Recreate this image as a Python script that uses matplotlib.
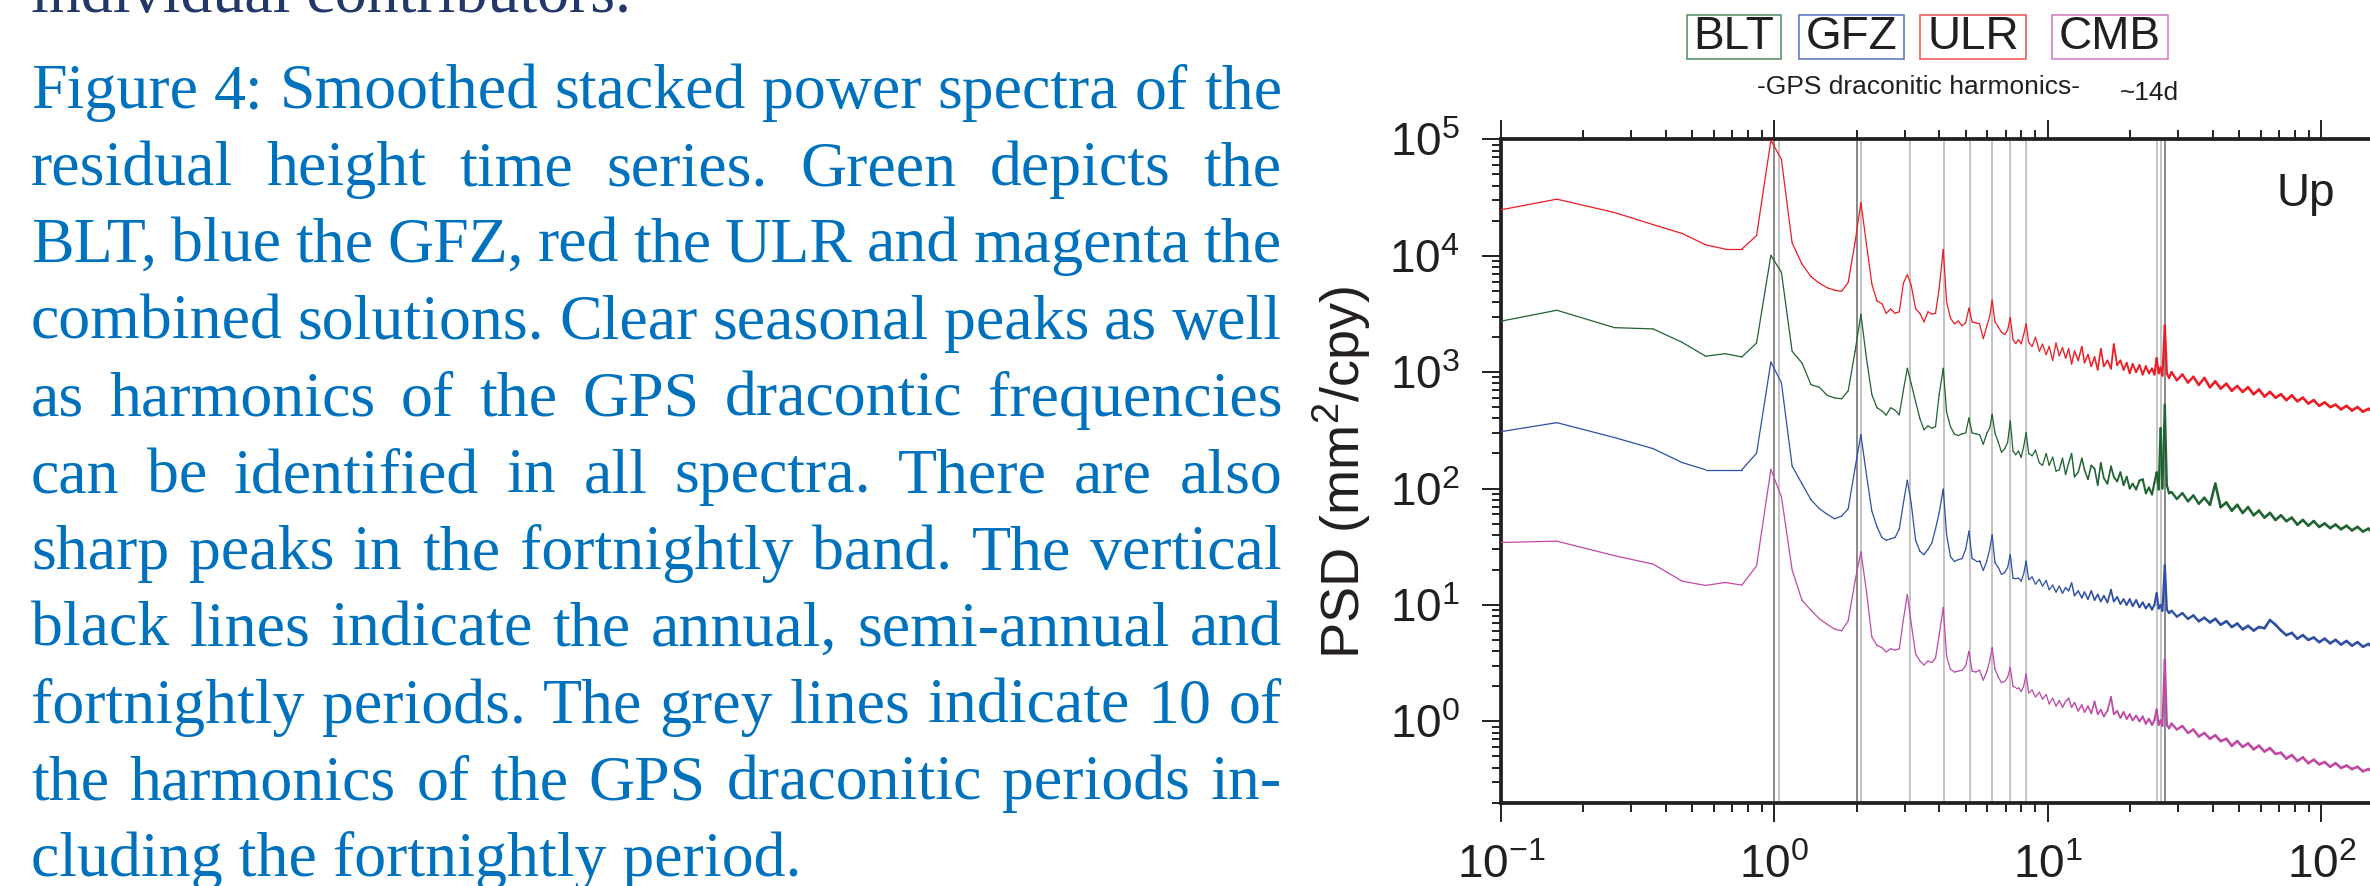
#!/usr/bin/env python3

import matplotlib
matplotlib.use("Agg")
import matplotlib.pyplot as plt
from matplotlib.ticker import LogLocator, NullFormatter
from matplotlib.patches import Rectangle
from matplotlib.collections import LineCollection
import numpy as np

# frequency (cpy) shared by the four stacked spectra
freq = [
    0.10, 0.16, 0.26, 0.36, 0.46, 0.56, 0.66, 0.76, 0.86,
    0.97, 1.06, 1.16, 1.26, 1.36, 1.46, 1.56, 1.66, 1.76, 1.86,
    1.97, 2.07, 2.17, 2.27, 2.37, 2.47, 2.56, 2.66, 2.76, 2.86, 2.96,
    3.06, 3.16, 3.28, 3.40, 3.52, 3.64, 3.76, 3.88, 4.00, 4.14,
    4.26, 4.40, 4.55, 4.70, 4.85, 5.00, 5.14, 5.28, 5.45, 5.62,
    5.80, 5.98, 6.12, 6.25, 6.40, 6.58, 6.76, 6.95, 7.12, 7.28,
    7.45, 7.62, 7.80, 7.98, 8.15, 8.32, 8.50,
    8.75, 9.0, 9.3, 9.55, 9.85, 10.1, 10.4, 10.7, 11.0, 11.3,
    11.6, 11.9, 12.2, 12.5, 12.9, 13.3, 13.6, 14.0, 14.4, 14.8,
    15.2, 15.6, 16.0, 16.5, 17.0, 17.4, 17.9, 18.4, 18.9, 19.4,
    19.9, 20.4, 21.0, 21.6, 22.2, 22.8, 23.4, 24.0, 24.5, 24.96,
    25.4, 25.8, 26.2, 26.74, 27.2, 27.7,
    28.3, 29.6, 31.0, 32.5, 34.0, 35.6, 37.3, 39.1, 40.9, 42.8,
    44.9, 47.0, 49.2, 51.5, 53.9, 56.5, 59.1, 61.9, 64.8, 67.9,
    71.1, 74.4, 77.9, 81.6, 85.5, 89.5, 93.7, 98.1, 102.7, 107.6,
    112.6, 117.9, 123.5, 129.3, 135.4, 141.8, 148.4, 155.4, 162.8, 170.4,
    178.4, 182.6,
]

# PSD (mm^2/cpy), stacked (offset) as in the figure
ulr = [
    24800, 30600, 23500, 18500, 15500, 12400, 11400, 11400, 14900,
    98000, 67400, 12900, 8500, 6600, 5800, 5300, 5050, 4950, 5900,
    13000, 28600, 12500, 5700, 4080, 3880, 3200, 3490, 3200, 3300, 5800,
    6870, 5600, 3500, 3200, 2700, 3300, 3150, 3200, 5200, 11300,
    4000, 2900, 2600, 2750, 2500, 2650, 3550, 2700, 2650, 2600,
    1940, 2500, 3000, 4160, 2700, 2450, 2200, 2100, 2300, 2950,
    1900, 1760, 1900, 1750, 2100, 2600, 1800,
    1660, 1995, 1514, 1738, 1413, 1660, 1259, 1778, 1380, 1622,
    1318, 1585, 1175, 1514, 1259, 1660, 1202, 1413, 1122, 1349,
    1047, 1585, 1122, 1259, 1072, 1738, 1148, 1259, 1047, 1202,
    977, 1175, 1000, 1148, 955, 1122, 977, 1072, 955, 1318,
    977, 1096, 933, 2512, 977, 891,
    1000, 851, 955, 813, 912, 776, 891, 741, 832, 724,
    794, 692, 759, 676, 741, 646, 708, 617, 676, 603,
    646, 575, 631, 562, 603, 537, 575, 513, 550, 501,
    525, 479, 513, 468, 501, 457, 484, 447, 473, 437,
    457, 427,
]

blt = [
    2740, 3400, 2410, 2350, 1800, 1370, 1440, 1350, 1780,
    10070, 7200, 1510, 1200, 780, 740, 630, 600, 590, 690,
    1500, 3140, 1300, 641, 494, 465, 427, 494, 470, 430, 700,
    1080, 800, 560, 400, 320, 345, 330, 340, 640, 1080,
    450, 340, 293, 285, 295, 300, 404, 300, 295, 290,
    240, 300, 330, 434, 300, 250, 205, 220, 250, 380,
    210, 195, 210, 185, 230, 302, 200,
    191, 214, 166, 158, 200, 158, 186, 141, 145, 182,
    132, 166, 200, 126, 138, 182, 145, 120, 158, 148,
    107, 166, 123, 110, 155, 126, 115, 138, 107, 126,
    100, 110, 98, 117, 120, 91, 102, 89, 112, 138,
    98, 331, 100, 525, 107, 91,
    93.3, 81.3, 91.2, 77.6, 87.1, 74.1, 83.2, 72.4, 110, 69.2,
    75.9, 64.6, 72.4, 61.7, 69.2, 58.9, 64.6, 56.2, 61.7, 53.7,
    58.9, 52.5, 56.2, 49.0, 53.7, 47.9, 52.5, 46.8, 50.1, 45.7,
    49.0, 44.7, 47.9, 43.7, 46.8, 42.7, 45.2, 40.7, 43.7, 39.8,
    42.2, 38.9,
]

gfz = [
    308, 368, 274, 220, 167, 145, 145, 145, 201,
    1220, 810, 156, 110, 80, 67, 60, 55, 58, 67,
    150, 290, 130, 64, 47, 38, 36, 37, 38, 45, 75,
    118, 75, 36, 29, 27, 30, 34, 45, 62, 99,
    40, 26, 23.6, 24.5, 25, 30, 43, 25, 24, 24,
    19.8, 24, 30, 40, 23, 21, 18.3, 19, 21, 27,
    17, 16.8, 17, 16, 18.5, 23.8, 16.5,
    17.4, 15.1, 16.6, 14.5, 16.2, 13.5, 14.8, 12.9, 14.5, 12.6,
    14.1, 13.2, 15.5, 12.0, 13.2, 11.5, 12.9, 11.2, 13.2, 11.0,
    12.3, 10.7, 12.0, 10.5, 13.5, 10.7, 11.7, 10.2, 11.2, 10.0,
    11.2, 9.77, 11.0, 9.55, 10.5, 9.33, 10.2, 9.12, 10.0, 12.6,
    9.33, 10.0, 8.91, 21.9, 9.12, 8.51,
    8.91, 7.94, 8.51, 7.59, 8.13, 7.24, 7.76, 7.08, 7.59, 6.76,
    7.24, 6.46, 6.92, 6.17, 6.61, 6.03, 6.46, 6.31, 7.41, 6.76,
    6.03, 5.50, 5.75, 5.13, 5.50, 5.01, 5.25, 4.79, 5.13, 4.68,
    5.01, 4.57, 4.90, 4.47, 4.79, 4.37, 4.62, 4.27, 4.52, 4.17,
    4.37, 4.07,
]

cmb = [
    34.4, 35.3, 26.5, 22.4, 16, 14.7, 15.6, 14.8, 21.7,
    146, 85, 20, 11, 9, 7.6, 6.8, 6.2, 6.0, 7.3,
    16, 28.6, 13, 5.3, 4.5, 4.3, 3.95, 4.2, 4.1, 4.2, 7.5,
    12.3, 7.0, 3.8, 3.3, 3.05, 3.3, 3.2, 3.5, 5.5, 9.5,
    3.6, 2.8, 2.65, 2.7, 2.75, 3.0, 4.0, 2.7, 2.65, 2.75,
    2.26, 2.7, 3.3, 4.3, 2.8, 2.4, 2.15, 2.2, 2.4, 2.9,
    2.0, 1.95, 1.95, 1.8, 2.0, 2.55, 1.75,
    1.86, 1.62, 1.78, 1.55, 1.70, 1.41, 1.58, 1.35, 1.51, 1.32,
    1.48, 1.58, 1.32, 1.45, 1.23, 1.38, 1.20, 1.35, 1.17, 1.48,
    1.15, 1.26, 1.10, 1.23, 1.62, 1.15, 1.23, 1.07, 1.20, 1.05,
    1.15, 1.02, 1.12, 1.00, 1.10, 0.955, 1.05, 0.933, 1.02, 1.26,
    0.933, 1.02, 0.912, 3.39, 0.933, 0.871,
    0.955, 0.851, 0.912, 0.794, 0.851, 0.741, 0.794, 0.708, 0.759, 0.676,
    0.708, 0.617, 0.676, 0.603, 0.646, 0.575, 0.617, 0.550, 0.589, 0.525,
    0.537, 0.479, 0.513, 0.457, 0.490, 0.437, 0.468, 0.427, 0.447, 0.407,
    0.437, 0.398, 0.417, 0.389, 0.407, 0.372, 0.389, 0.363, 0.380, 0.355,
    0.372, 0.347,
]

# annual, semi-annual and fortnightly periods (black lines)
seasonal_lines = [1.0, 2.0, 26.74]
# GPS draconitic harmonics (grey lines)
draconitic_lines = [1.04, 2.08, 3.12, 4.16, 5.20, 6.24, 7.28, 8.32, 24.96, 26.0]

legend_names = ["BLT", "GFZ", "ULR", "CMB"]

caption_lines = [
    "Figure 4: Smoothed stacked power spectra of the",
    "residual height time series. Green depicts the",
    "BLT, blue the GFZ, red the ULR and magenta the",
    "combined solutions. Clear seasonal peaks as well",
    "as harmonics of the GPS dracontic frequencies",
    "can be identified in all spectra. There are also",
    "sharp peaks in the fortnightly band. The vertical",
    "black lines indicate the annual, semi-annual and",
    "fortnightly periods. The grey lines indicate 10 of",
    "the harmonics of the GPS draconitic periods in-",
    "cluding the fortnightly period.",
]

W, H = 2370, 886


def fx(x):
    return x / W


def fy(y):
    return 1 - y / H


def main():
    plt.rcParams["font.family"] = "Liberation Sans"
    plt.rcParams["mathtext.default"] = "regular"
    plt.rcParams["axes.unicode_minus"] = False
    ink = "#231f20"

    fig = plt.figure(figsize=(W / 100, H / 100), dpi=100)
    renderer = fig.canvas.get_renderer()

    # ---- caption (justified) ----
    cap_col = "#0071bc"
    left, right = 31, 1282
    base0, lead = 108.3, 76.8
    fig.text(fx(left), fy(12), "individual contributors.", family="Liberation Serif",
             fontsize=46, color="#22386a", va="baseline")
    for i, line in enumerate(caption_lines):
        y = base0 + i * lead
        if i == len(caption_lines) - 1:
            fig.text(fx(left), fy(y), line, family="Liberation Serif", fontsize=46,
                     color=cap_col, va="baseline")
            continue
        words = line.split(" ")
        texts = [fig.text(0, fy(y), w, family="Liberation Serif", fontsize=46,
                          color=cap_col, va="baseline") for w in words]
        widths = [t.get_window_extent(renderer).width for t in texts]
        gap = (right - left - sum(widths)) / (len(words) - 1)
        x = left
        for t, w in zip(texts, widths):
            t.set_x(fx(x))
            x += w + gap

    # ---- spectra ----
    ax = fig.add_axes([fx(1501), fy(802.7), 892 / W, 663.4 / H])
    ax.set_xscale("log")
    ax.set_yscale("log")
    ax.set_xlim(0.1, 182.6)
    ax.set_ylim(0.2, 1e5)

    for f in draconitic_lines:
        ax.axvline(f, color="#b4b4b4", lw=1.1, zorder=1)
    for f in seasonal_lines:
        ax.axvline(f, color="#6a6a6a", lw=1.1, zorder=1)

    # dense high-frequency part of the spectra reads as a heavier band
    widths = np.interp(np.log10(freq[:-1]), [1.0, 1.6], [0.9, 1.9])
    line_cols = {"BLT": "#1f6330", "GFZ": "#2e4fa5", "ULR": "#ed1c24", "CMB": "#be4aa6"}
    for name, vals in zip(["ULR", "BLT", "GFZ", "CMB"], [ulr, blt, gfz, cmb]):
        segs = [[(freq[i], vals[i]), (freq[i + 1], vals[i + 1])] for i in range(len(freq) - 1)]
        lc = LineCollection(segs, colors=line_cols[name], linewidths=widths,
                            capstyle="round", joinstyle="round", zorder=3)
        ax.add_collection(lc)

    for s in ax.spines.values():
        s.set_linewidth(2.7)
        s.set_color(ink)
    ax.xaxis.set_minor_locator(LogLocator(base=10, subs=np.arange(2, 10), numticks=50))
    ax.yaxis.set_minor_locator(LogLocator(base=10, subs=np.arange(2, 10), numticks=50))
    ax.xaxis.set_minor_formatter(NullFormatter())
    ax.yaxis.set_minor_formatter(NullFormatter())
    ax.tick_params(which="both", direction="out", width=1.4, color=ink,
                   labelcolor=ink, top=True, bottom=True, left=True, right=False)
    ax.tick_params(which="major", length=13.7, labelsize=33, pad=16)
    ax.tick_params(which="minor", length=6.8)

    fig.text(fx(2276), fy(206), "Up", fontsize=33, color=ink, va="baseline")

    fig.text(fx(1360), fy(472), "PSD (mm$^2$/cpy)", rotation=90, rotation_mode="anchor",
             ha="center", va="baseline", fontsize=39, color=ink)

    # ---- legend boxes and annotations ----
    box_cols = ["#4e8b5f", "#5670c0", "#ee5050", "#d277c0"]
    box_x = [1734, 1851.5, 1973, 2109.5]
    for name, cx, col in zip(legend_names, box_x, box_cols):
        t = fig.text(fx(cx), fy(49), name, ha="center", va="baseline", fontsize=33, color=ink)
        bb = t.get_window_extent(renderer)
        fig.add_artist(Rectangle((fx(bb.x0 - 7), bb.y0 / H), (bb.width + 14) / W, bb.height / H,
                                 transform=fig.transFigure, fill=False, ec=col, lw=1.1))

    fig.text(fx(1919), fy(94), "-GPS draconitic harmonics-", ha="center", va="baseline",
             fontsize=19, color=ink)
    fig.text(fx(2120), fy(100), "~14d", ha="left", va="baseline", fontsize=19, color=ink)

    fig.savefig("out.png", dpi=100)


if __name__ == "__main__":
    main()
